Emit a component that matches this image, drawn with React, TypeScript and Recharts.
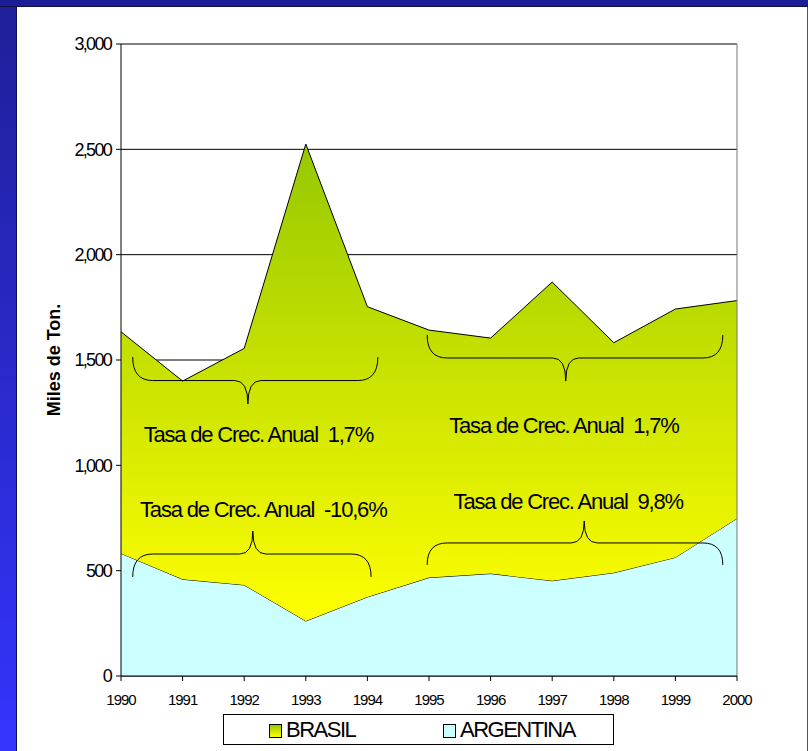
import {
  Area,
  AreaChart,
  CartesianGrid,
  ReferenceArea,
  ReferenceDot,
  ReferenceLine,
  XAxis,
  YAxis,
} from "recharts";

const years = [1990, 1991, 1992, 1993, 1994, 1995, 1996, 1997, 1998, 1999, 2000];
// stacked: argentina at the bottom, brasil on top of it
const argentina = [582, 459, 432, 261, 375, 467, 486, 452, 490, 563, 748];
const brasil = [1052, 941, 1123, 2264, 1378, 1175, 1118, 1418, 1092, 1179, 1034];
const yTicks = [0, 500, 1000, 1500, 2000, 2500, 3000];

// brace annotations, in data units
const braces = [
  { x1: 1990.19, x2: 1994.17, tip: 1992.06, yEnd: 1514, yTip: 1291, dir: "down" },
  { x1: 1994.97, x2: 1999.77, tip: 1997.22, yEnd: 1619, yTip: 1400, dir: "down" },
  { x1: 1990.19, x2: 1994.06, tip: 1992.14, yEnd: 470, yTip: 688, dir: "up" },
  { x1: 1994.97, x2: 1999.77, tip: 1997.52, yEnd: 527, yTip: 736, dir: "up" },
];

const notes = [
  { x: 1992.23, y: 1146, text: "Tasa de Crec. Anual  1,7%" },
  { x: 1997.19, y: 1187, text: "Tasa de Crec. Anual  1,7%" },
  { x: 1992.31, y: 788, text: "Tasa de Crec. Anual  -10,6%" },
  { x: 1997.26, y: 826, text: "Tasa de Crec. Anual  9,8%" },
];

const data = years.map((year, i) => ({
  year,
  argentina: argentina[i],
  brasil: brasil[i],
}));

const FONT = "'Liberation Sans', Arial, sans-serif";

const fmt = (v: number) => v.toLocaleString("en-US");

const YTick = ({ x, y, payload }: any) => (
  <text
    x={x}
    y={y}
    dy="0.36em"
    textAnchor="end"
    fontSize={18}
    fontFamily={FONT}
    letterSpacing={-1.7}
    fill="#000"
  >
    {fmt(payload.value)}
  </text>
);

const XTick = ({ x, y, payload }: any) => (
  <text
    x={x}
    y={y}
    dy="0.71em"
    textAnchor="middle"
    fontSize={15}
    fontFamily={FONT}
    letterSpacing={-1}
    fill="#000"
  >
    {payload.value}
  </text>
);

const YLabel = ({ viewBox }: any) => {
  const cx = viewBox.x - 7;
  const cy = viewBox.y + viewBox.height / 2;
  return (
    <text
      x={cx}
      y={cy}
      transform={`rotate(-90, ${cx}, ${cy})`}
      textAnchor="middle"
      dominantBaseline="central"
      fontSize={18}
      fontWeight="bold"
      fontFamily={FONT}
      fill="#000"
    >
      Miles de Ton.
    </text>
  );
};

function braceShape(b: (typeof braces)[number]) {
  return (props: any) => {
    const { x, y, width: w, height: h } = props;
    const e = b.dir === "down" ? y : y + h;
    const t = b.dir === "down" ? y + h : y;
    const m = y + h / 2;
    const tx = x + (w * (b.tip - b.x1)) / (b.x2 - b.x1);
    const r = 20;
    const s = 13;
    const d =
      `M${x},${e} Q${x},${m} ${x + r},${m} L${tx - s},${m} ` +
      `Q${tx},${m} ${tx},${t} Q${tx},${m} ${tx + s},${m} ` +
      `L${x + w - r},${m} Q${x + w},${m} ${x + w},${e}`;
    return <path d={d} fill="none" stroke="#000" strokeWidth={1} />;
  };
}

function noteShape(text: string) {
  return (props: any) => (
    <text
      x={props.cx}
      y={props.cy}
      textAnchor="middle"
      dominantBaseline="central"
      fontSize={22}
      letterSpacing={-1.2}
      fontFamily={FONT}
      fill="#000"
      style={{ whiteSpace: "pre" }}
    >
      {text}
    </text>
  );
}

const legendText: React.CSSProperties = {
  position: "absolute",
  top: 2,
  fontFamily: FONT,
  fontSize: 22,
  letterSpacing: -1.5,
  lineHeight: "26px",
  color: "#000",
};

export default function App() {
  return (
    <div
      style={{
        position: "absolute",
        left: 0,
        top: 0,
        width: 808,
        height: 751,
        background: "#fff",
        overflow: "hidden",
      }}
    >
      {/* blue frame */}
      <div
        style={{
          position: "absolute",
          left: 0,
          top: 0,
          width: 16,
          height: 751,
          background: "linear-gradient(#1f1f98, #3434ff)",
          borderRight: "1px solid #10104a",
        }}
      />
      <div
        style={{
          position: "absolute",
          left: 0,
          top: 0,
          width: 808,
          height: 6,
          background: "#1d1d96",
          borderBottom: "1px solid #10104a",
        }}
      />
      <div
        style={{
          position: "absolute",
          left: 807,
          top: 7,
          width: 1,
          height: 744,
          background: "#555",
        }}
      />

      <AreaChart
        width={808}
        height={751}
        data={data}
        margin={{ top: 44, right: 71, left: 61, bottom: 45 }}
        style={{ position: "absolute", left: 0, top: 0 }}
      >
        <defs>
          <linearGradient id="brasilFill" x1="0" y1="0" x2="0" y2="1">
            <stop offset="0%" stopColor="#96c800" />
            <stop offset="100%" stopColor="#ffff00" />
          </linearGradient>
        </defs>
        <CartesianGrid vertical={false} stroke="#000" strokeWidth={1} />
        <XAxis
          dataKey="year"
          type="number"
          domain={[1990, 2000]}
          ticks={years}
          height={30}
          stroke="#000"
          tickSize={5}
          tickMargin={13}
          tick={<XTick />}
        />
        <YAxis
          domain={[0, 3000]}
          ticks={yTicks}
          width={60}
          stroke="#000"
          tickSize={5}
          tickMargin={5}
          tick={<YTick />}
          label={<YLabel />}
        />
        <Area
          type="linear"
          dataKey="argentina"
          stackId="a"
          stroke="#000"
          strokeWidth={1}
          fill="#ccffff"
          fillOpacity={1}
          isAnimationActive={false}
        />
        <Area
          type="linear"
          dataKey="brasil"
          stackId="a"
          stroke="#000"
          strokeWidth={1}
          fill="url(#brasilFill)"
          fillOpacity={1}
          isAnimationActive={false}
        />
        <ReferenceLine x={2000} stroke="#777" strokeWidth={1} />
        {braces.map((b, i) => (
          <ReferenceArea
            key={`b${i}`}
            x1={b.x1}
            x2={b.x2}
            y1={b.yEnd}
            y2={b.yTip}
            shape={braceShape(b)}
          />
        ))}
        {notes.map((n, i) => (
          <ReferenceDot key={`n${i}`} x={n.x} y={n.y} r={0} shape={noteShape(n.text)} />
        ))}
      </AreaChart>

      {/* legend */}
      <div
        style={{
          position: "absolute",
          left: 223,
          top: 714,
          width: 389,
          height: 29,
          border: "1px solid #000",
          background: "#fff",
        }}
      >
        <div
          style={{
            position: "absolute",
            left: 45,
            top: 9,
            width: 11,
            height: 12,
            border: "1px solid #000",
            background: "linear-gradient(#96c800, #ffff00)",
          }}
        />
        <div style={{ ...legendText, left: 62 }}>BRASIL</div>
        <div
          style={{
            position: "absolute",
            left: 219,
            top: 9,
            width: 11,
            height: 12,
            border: "1px solid #000",
            background: "#ccffff",
          }}
        />
        <div style={{ ...legendText, left: 236 }}>ARGENTINA</div>
      </div>
    </div>
  );
}
